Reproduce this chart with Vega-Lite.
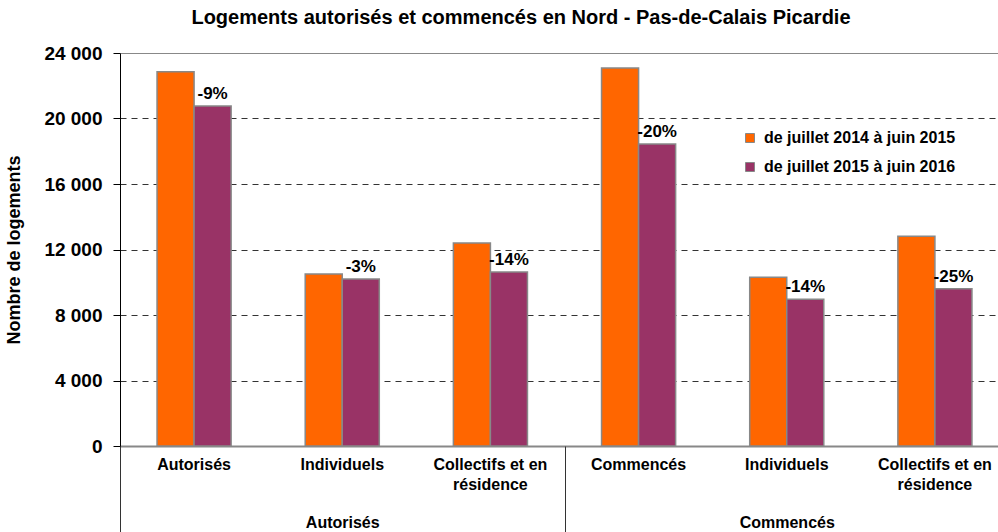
{
  "$schema": "https://vega.github.io/schema/vega-lite/v6.json",
  "autosize": "none",
  "width": 878,
  "height": 393,
  "padding": {"left": 120, "top": 53, "right": 0, "bottom": 86},
  "background": "white",
  "config": {
    "font": "Liberation Sans",
    "view": {"stroke": null}
  },
  "title": {
    "text": "Logements autorisés et commencés en Nord - Pas-de-Calais Picardie",
    "fontSize": 20,
    "fontWeight": "bold",
    "color": "#000000",
    "anchor": "middle",
    "dx": -38,
    "baseline": "alphabetic",
    "offset": 0
  },
  "layer": [
    {
      "data": {
        "values": [
          {"cat": "A1", "group": "Autorisés", "period": "de juillet 2014 à juin 2015", "value": 22850, "pct": null},
          {"cat": "A1", "group": "Autorisés", "period": "de juillet 2015 à juin 2016", "value": 20760, "pct": "-9%"},
          {"cat": "A2", "group": "Autorisés", "period": "de juillet 2014 à juin 2015", "value": 10500, "pct": null},
          {"cat": "A2", "group": "Autorisés", "period": "de juillet 2015 à juin 2016", "value": 10200, "pct": "-3%"},
          {"cat": "A3", "group": "Autorisés", "period": "de juillet 2014 à juin 2015", "value": 12400, "pct": null},
          {"cat": "A3", "group": "Autorisés", "period": "de juillet 2015 à juin 2016", "value": 10630, "pct": "-14%"},
          {"cat": "C1", "group": "Commencés", "period": "de juillet 2014 à juin 2015", "value": 23080, "pct": null},
          {"cat": "C1", "group": "Commencés", "period": "de juillet 2015 à juin 2016", "value": 18450, "pct": "-20%"},
          {"cat": "C2", "group": "Commencés", "period": "de juillet 2014 à juin 2015", "value": 10300, "pct": null},
          {"cat": "C2", "group": "Commencés", "period": "de juillet 2015 à juin 2016", "value": 8960, "pct": "-14%"},
          {"cat": "C3", "group": "Commencés", "period": "de juillet 2014 à juin 2015", "value": 12810, "pct": null},
          {"cat": "C3", "group": "Commencés", "period": "de juillet 2015 à juin 2016", "value": 9600, "pct": "-25%"}
        ]
      },
      "encoding": {
        "x": {
          "field": "cat",
          "type": "nominal",
          "sort": ["A1", "A2", "A3", "C1", "C2", "C3"],
          "scale": {"paddingInner": 0, "paddingOuter": 0, "range": [0, 889]},
          "axis": {
            "title": null,
            "labelAngle": 0,
            "ticks": false,
            "domainColor": "#888888",
            "domainWidth": 2,
            "labelFontSize": 16,
            "labelFontWeight": "bold",
            "labelColor": "#000000",
            "labelPadding": 10,
            "labelLineHeight": 20,
            "labelBaseline": "top",
            "grid": false,
            "labelExpr": "datum.value == 'A1' ? 'Autorisés' : datum.value == 'C1' ? 'Commencés' : (datum.value == 'A2' || datum.value == 'C2') ? 'Individuels' : ['Collectifs et en', 'résidence']"
          }
        },
        "xOffset": {
          "field": "period",
          "type": "nominal",
          "scale": {"paddingInner": 0, "paddingOuter": 1}
        },
        "y": {
          "field": "value",
          "type": "quantitative",
          "scale": {"domain": [0, 24000], "nice": false},
          "axis": {
            "title": "Nombre de logements",
            "titleFontSize": 18,
            "titleFontWeight": "bold",
            "titleColor": "#000000",
            "titlePadding": 20,
            "values": [0, 4000, 8000, 12000, 16000, 20000, 24000],
            "labelExpr": "replace(format(datum.value, ','), ',', ' ')",
            "labelFontSize": 19,
            "labelFontWeight": "bold",
            "labelColor": "#000000",
            "labelPadding": 11,
            "tickSize": 7,
            "tickColor": "#000000",
            "domainColor": "#000000",
            "domainWidth": 1,
            "grid": true,
            "gridColor": {"condition": {"test": "datum.value == 24000 || datum.value == 0", "value": "#888888"}, "value": "#333333"},
            "gridDash": {"condition": {"test": "datum.value == 24000 || datum.value == 0", "value": []}, "value": [6, 5]},
            "gridWidth": 1
          }
        }
      },
      "layer": [
        {
          "mark": {"type": "bar", "stroke": "#888888", "strokeWidth": 1.5},
          "encoding": {
            "color": {
              "field": "period",
              "type": "nominal",
              "scale": {"domain": ["de juillet 2014 à juin 2015", "de juillet 2015 à juin 2016"], "range": ["#FF6600", "#993366"]},
              "legend": {
                "title": null,
                "orient": "none",
                "legendX": 622,
                "legendY": 77,
                "padding": 0,
                "symbolType": "square",
                "symbolSize": 81,
                "symbolStrokeColor": "#888888",
                "symbolStrokeWidth": 1,
                "labelFontSize": 16,
                "labelFontWeight": "bold",
                "labelColor": "#000000",
                "labelOffset": 6,
                "labelLimit": 0,
                "rowPadding": 13
              }
            }
          }
        },
        {
          "transform": [{"filter": "datum.pct != null"}],
          "mark": {"type": "text", "fontSize": 17, "fontWeight": "bold", "color": "#000000", "baseline": "alphabetic", "dy": -7},
          "encoding": {
            "text": {"field": "pct", "type": "nominal"}
          }
        }
      ]
    },
    {
      "data": {"values": [{"group": "Autorisés"}, {"group": "Commencés"}]},
      "mark": {"type": "point", "opacity": 0},
      "encoding": {
        "x": {
          "field": "group",
          "type": "nominal",
          "scale": {"paddingInner": 0, "paddingOuter": 0, "range": [0, 889]},
          "axis": {
            "title": null,
            "orient": "bottom",
            "labelAngle": 0,
            "domain": false,
            "ticks": true,
            "tickBand": "extent",
            "tickSize": 86,
            "tickColor": "#333333",
            "tickWidth": 1,
            "labelFontSize": 16,
            "labelFontWeight": "bold",
            "labelColor": "#000000",
            "labelBaseline": "top",
            "labelPadding": -18,
            "grid": false
          }
        },
        "y": {"datum": 0, "type": "quantitative"}
      }
    }
  ],
  "resolve": {"scale": {"x": "independent"}, "axis": {"x": "independent"}}
}
